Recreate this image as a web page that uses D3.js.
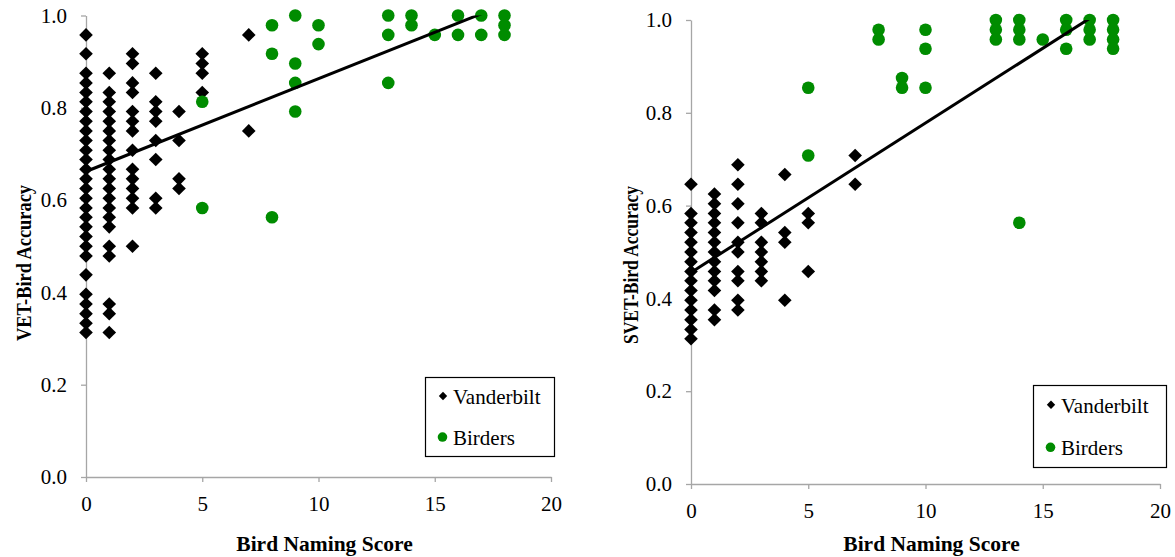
<!DOCTYPE html>
<html>
<head>
<meta charset="utf-8">
<script src="https://cdn.jsdelivr.net/npm/d3@7"></script>
<style>
  body { margin: 0; background: #fff; }
  svg { display: block; }
  text { font-family: "Liberation Serif", "Times New Roman", serif; fill: #000; }
</style>
</head>
<body>
<svg id="chart" width="1175" height="557"></svg>
<script>
// ---- data ----
const scoreTicks = [0, 5, 10, 15, 20];
const accuracyTicks = [0, 0.2, 0.4, 0.6, 0.8, 1.0];
const seriesNames = ["Vanderbilt", "Birders"];
const xTitle = "Bird Naming Score";
const yTitles = ["VET-Bird Accuracy", "SVET-Bird Accuracy"];

// VET-Bird accuracy by bird naming score
const vetVanderbilt = [
  { score: 0, acc: [0.958, 0.917, 0.875, 0.854, 0.833, 0.813, 0.792, 0.771, 0.750, 0.729, 0.708, 0.688, 0.667, 0.646, 0.625, 0.604, 0.583, 0.563, 0.542, 0.521, 0.500, 0.479, 0.438, 0.396, 0.375, 0.354, 0.333, 0.313] },
  { score: 1, acc: [0.875, 0.833, 0.813, 0.792, 0.771, 0.750, 0.729, 0.708, 0.688, 0.667, 0.646, 0.625, 0.604, 0.583, 0.563, 0.542, 0.500, 0.479, 0.375, 0.354, 0.313] },
  { score: 2, acc: [0.917, 0.896, 0.854, 0.833, 0.792, 0.771, 0.750, 0.708, 0.667, 0.646, 0.625, 0.604, 0.583, 0.500] },
  { score: 3, acc: [0.875, 0.813, 0.792, 0.771, 0.729, 0.688, 0.604, 0.583] },
  { score: 4, acc: [0.792, 0.729, 0.646, 0.625] },
  { score: 5, acc: [0.917, 0.896, 0.875, 0.833] },
  { score: 7, acc: [0.958, 0.750] }
];
const vetBirders = [
  { score: 5, acc: [0.813, 0.583] },
  { score: 8, acc: [0.979, 0.917, 0.563] },
  { score: 9, acc: [1.0, 0.896, 0.854, 0.792] },
  { score: 10, acc: [0.979, 0.938] },
  { score: 13, acc: [1.0, 0.958, 0.854] },
  { score: 14, acc: [1.0, 0.979] },
  { score: 15, acc: [0.958] },
  { score: 16, acc: [1.0, 0.958] },
  { score: 17, acc: [1.0, 0.958] },
  { score: 18, acc: [1.0, 0.979, 0.958] }
];
const vetTrend = { intercept: 0.662, slope: 0.0201, from: 0, to: 18 };

// SVET-Bird accuracy by bird naming score
const svetVanderbilt = [
  { score: 0, acc: [0.646, 0.583, 0.563, 0.542, 0.521, 0.500, 0.479, 0.458, 0.438, 0.417, 0.396, 0.375, 0.354, 0.333, 0.313] },
  { score: 1, acc: [0.625, 0.604, 0.583, 0.563, 0.542, 0.521, 0.500, 0.479, 0.458, 0.438, 0.417, 0.375, 0.354] },
  { score: 2, acc: [0.688, 0.646, 0.604, 0.563, 0.521, 0.500, 0.458, 0.438, 0.396, 0.375] },
  { score: 3, acc: [0.583, 0.563, 0.521, 0.500, 0.479, 0.458, 0.438] },
  { score: 4, acc: [0.667, 0.542, 0.521, 0.396] },
  { score: 5, acc: [0.583, 0.563, 0.458] },
  { score: 7, acc: [0.708, 0.646] }
];
const svetBirders = [
  { score: 5, acc: [0.854, 0.708] },
  { score: 8, acc: [0.979, 0.958] },
  { score: 9, acc: [0.875, 0.854] },
  { score: 10, acc: [0.979, 0.938, 0.854] },
  { score: 13, acc: [1.0, 0.979, 0.958] },
  { score: 14, acc: [1.0, 0.979, 0.958, 0.563] },
  { score: 15, acc: [0.958] },
  { score: 16, acc: [1.0, 0.979, 0.938] },
  { score: 17, acc: [1.0, 0.979, 0.958] },
  { score: 18, acc: [1.0, 0.979, 0.958, 0.938] }
];
const svetTrend = { intercept: 0.456, slope: 0.0322, from: 0, to: 18 };

// ---- layout / style ----
const SERIF = "'Liberation Serif', 'Times New Roman', Times, serif";
const AXIS_GREY = "#a6a6a6";
const GREEN = "#008c00";
const panels = [
  { id: "vet", x0: 86, x1: 551, y0: 477, y1: 15.5, yTitle: yTitles[0],
    vand: vetVanderbilt, bird: vetBirders, trend: vetTrend,
    yTitleX: 31, yTitleY: 263, yTitleLen: 156, xTitleY: 551,
    legend: { x: 425, y: 377, w: 129, h: 79 } },
  { id: "svet", x0: 691, x1: 1160, y0: 484, y1: 20, yTitle: yTitles[1],
    vand: svetVanderbilt, bird: svetBirders, trend: svetTrend,
    yTitleX: 638, yTitleY: 265, yTitleLen: 158, xTitleY: 551,
    legend: { x: 1033, y: 385, w: 133, h: 82 } }
];

const svg = d3.select("#chart");

function diamondPath(half) {
  return `M0,${-half}L${half},0L0,${half}L${-half},0Z`;
}

function flatten(cols) {
  const out = [];
  cols.forEach(c => c.acc.forEach(a => out.push({ score: c.score, acc: a })));
  return out;
}

panels.forEach(p => {
  const x = d3.scaleLinear().domain([0, 20]).range([p.x0, p.x1]);
  const y = d3.scaleLinear().domain([0, 1]).range([p.y0, p.y1]);
  const g = svg.append("g").attr("class", p.id);

  // axes
  const yAxis = d3.axisLeft(y).tickValues(accuracyTicks).tickFormat(d3.format(".1f"))
    .tickSize(5).tickSizeOuter(0).tickPadding(14);
  const xAxis = d3.axisBottom(x).tickValues(scoreTicks).tickFormat(d3.format("d"))
    .tickSize(5).tickSizeOuter(0).tickPadding(14);

  const ya = g.append("g").attr("transform", `translate(${p.x0},0)`).call(yAxis);
  const xa = g.append("g").attr("transform", `translate(0,${p.y0})`).call(xAxis);
  [ya, xa].forEach(a => {
    a.attr("font-family", null).attr("font-size", null);
    a.select(".domain").attr("stroke", AXIS_GREY).attr("stroke-width", 1.3);
    a.selectAll(".tick line").attr("stroke", AXIS_GREY).attr("stroke-width", 1.3);
    a.selectAll(".tick text")
      .style("font-family", SERIF).style("font-size", "21px").attr("fill", "#000");
  });

  // axis titles
  g.append("text")
    .attr("transform", `translate(${p.yTitleX},${p.yTitleY}) rotate(-90)`)
    .attr("text-anchor", "middle")
    .attr("textLength", p.yTitleLen).attr("lengthAdjust", "spacingAndGlyphs")
    .style("font-family", SERIF).style("font-size", "21px").style("font-weight", "bold")
    .text(p.yTitle);
  g.append("text")
    .attr("x", (p.x0 + p.x1) / 2 + 6).attr("y", p.xTitleY)
    .attr("text-anchor", "middle")
    .style("font-family", SERIF).style("font-size", "21.5px").style("font-weight", "bold")
    .text(xTitle);

  // points
  g.append("g").selectAll("path").data(flatten(p.vand)).join("path")
    .attr("d", diamondPath(6.8))
    .attr("transform", d => `translate(${x(d.score)},${y(d.acc)})`)
    .attr("fill", "#000");
  g.append("g").selectAll("circle").data(flatten(p.bird)).join("circle")
    .attr("cx", d => x(d.score)).attr("cy", d => y(d.acc))
    .attr("r", 6.3).attr("fill", GREEN);

  // linear trend line, clipped to the plot area
  const clipId = `clip-${p.id}`;
  svg.append("clipPath").attr("id", clipId).append("rect")
    .attr("x", p.x0).attr("y", p.y1).attr("width", p.x1 - p.x0).attr("height", p.y0 - p.y1);
  const t = p.trend;
  g.append("line")
    .attr("clip-path", `url(#${clipId})`)
    .attr("x1", x(t.from)).attr("y1", y(t.intercept + t.slope * t.from))
    .attr("x2", x(t.to)).attr("y2", y(t.intercept + t.slope * t.to))
    .attr("stroke", "#000").attr("stroke-width", 3);

  // legend
  const L = p.legend;
  const lg = g.append("g").attr("transform", `translate(${L.x},${L.y})`);
  lg.append("rect").attr("x", 0.5).attr("y", 0.5).attr("width", L.w).attr("height", L.h)
    .attr("fill", "#fff").attr("stroke", "#000").attr("stroke-width", 1.2);
  const rowY = [L.h * 0.24, L.h * 0.76];
  lg.append("path").attr("d", diamondPath(4.2))
    .attr("transform", `translate(18,${rowY[0]})`).attr("fill", "#000");
  lg.append("circle").attr("cx", 17.5).attr("cy", rowY[1]).attr("r", 4.8).attr("fill", GREEN);
  seriesNames.forEach((name, i) => {
    lg.append("text").attr("x", 28).attr("y", rowY[i] + 8)
      .style("font-family", SERIF).style("font-size", "21px")
      .text(name);
  });
});
</script>
</body>
</html>
